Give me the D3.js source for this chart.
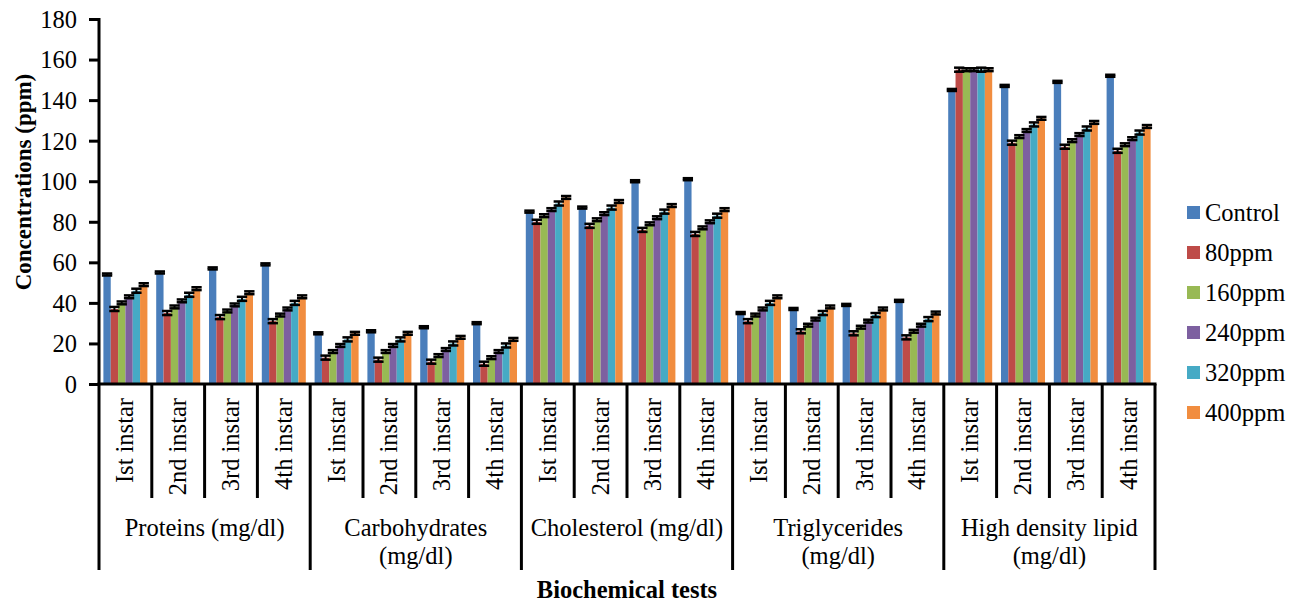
<!DOCTYPE html>
<html>
<head>
<meta charset="utf-8">
<script src="https://cdnjs.cloudflare.com/ajax/libs/d3/7.8.5/d3.min.js"></script>
<style>
  body { margin: 0; background: #fff; }
  svg text { font-family: 'Liberation Serif', 'Times New Roman', serif; fill: #000; }
</style>
</head>
<body>
<script>
// chart data
var categories = [
  ["Proteins (mg/dl)"],
  ["Carbohydrates", "(mg/dl)"],
  ["Cholesterol (mg/dl)"],
  ["Triglycerides", "(mg/dl)"],
  ["High density lipid", "(mg/dl)"]
];
var instars = ["Ist instar", "2nd instar", "3rd instar", "4th instar"];
var seriesNames = ["Control", "80ppm", "160ppm", "240ppm", "320ppm", "400ppm"];
var colors = ["#4A7EBB", "#BE4B48", "#98B954", "#7D60A0", "#46AAC5", "#F18D3F"];
var yTicks = [0, 20, 40, 60, 80, 100, 120, 140, 160, 180];

var control = [54, 55, 57, 59, 25, 26, 28, 30, 85, 87, 100, 101, 35, 37, 39, 41, 145, 147, 149, 152];
var ppm80   = [37, 35, 33, 31, 13, 12, 11, 10, 80, 78, 76, 74, 31, 26, 25, 23, 155, 119, 117, 115];
var ppm160  = [40, 38, 36, 34, 16, 16, 14, 13, 83, 81, 79, 77, 34, 29, 28, 26, 155, 122, 120, 118];
var ppm240  = [43, 41, 39, 37, 19, 19, 17, 16, 86, 84, 82, 80, 37, 32, 31, 29, 155, 125, 123, 121];
var ppm320  = [46, 44, 42, 40, 22, 22, 20, 19, 89, 87, 85, 83, 40, 35, 34, 32, 155, 128, 126, 124];
var ppm400  = [49, 47, 45, 43, 25, 25, 23, 22, 92, 90, 88, 86, 43, 38, 37, 35, 155, 131, 129, 127];
var errors  = [0.5, 1, 0.7, 0.7, 1, 0.7];

var values = [control, ppm80, ppm160, ppm240, ppm320, ppm400];

var width = 1303, height = 603;
var mLeft = 99, mRight = 1155, mTop = 19, mBottom = 384;
var fs = "24.5px";

var svg = d3.select("body").append("svg")
  .attr("width", width)
  .attr("height", height);

// one slot per category/instar pair
var slots = [];
categories.forEach(function(c, ci) {
  instars.forEach(function(ins, ii) {
    slots.push({cat: ci, instar: ins, idx: ci * instars.length + ii});
  });
});

var x0 = d3.scaleBand().domain(slots.map(d => d.idx)).range([mLeft, mRight]).padding(0);
var x1 = d3.scaleBand().domain(seriesNames).range([0, x0.bandwidth()]).paddingInner(0).paddingOuter(0.6);
var y = d3.scaleLinear().domain([0, 180]).range([mBottom, mTop]);

// bars
var bars = [];
values.forEach(function(arr, si) {
  arr.forEach(function(v, i) {
    bars.push({s: seriesNames[si], si: si, i: i, v: v, e: errors[si]});
  });
});

svg.append("g").selectAll("rect")
  .data(bars)
  .enter().append("rect")
    .attr("x", d => x0(d.i) + x1(d.s))
    .attr("y", d => y(d.v))
    .attr("width", x1.bandwidth())
    .attr("height", d => y(0) - y(d.v))
    .attr("fill", d => colors[d.si]);

// error bars
var eb = svg.append("g").attr("stroke", "#000").attr("stroke-width", 2);
var capW = x1.bandwidth() + 3;
var cx = d => x0(d.i) + x1(d.s) + x1.bandwidth() / 2;
eb.selectAll("line.w")
  .data(bars)
  .enter().append("line")
    .attr("x1", cx).attr("x2", cx)
    .attr("y1", d => y(d.v + d.e))
    .attr("y2", d => y(d.v - d.e));
eb.selectAll("line.top")
  .data(bars)
  .enter().append("line")
    .attr("x1", d => cx(d) - capW / 2)
    .attr("x2", d => cx(d) + capW / 2)
    .attr("y1", d => y(d.v + d.e))
    .attr("y2", d => y(d.v + d.e))
    .attr("stroke-width", 2.5);
eb.selectAll("line.bot")
  .data(bars)
  .enter().append("line")
    .attr("x1", d => cx(d) - capW / 2)
    .attr("x2", d => cx(d) + capW / 2)
    .attr("y1", d => y(d.v - d.e))
    .attr("y2", d => y(d.v - d.e))
    .attr("stroke-width", 2.5);

// y axis
var yAxis = svg.append("g")
  .attr("transform", "translate(" + mLeft + ",0)")
  .call(d3.axisLeft(y).tickValues(yTicks).tickSize(10).tickPadding(12));
yAxis.select(".domain").attr("stroke", "#000").attr("stroke-width", 3)
  .attr("d", "M0," + (mTop - 1) + "V" + mBottom);
yAxis.selectAll(".tick line").attr("stroke", "#000").attr("stroke-width", 3);
yAxis.selectAll(".tick text")
  .style("font-family", "'Liberation Serif', serif")
  .style("font-size", fs)
  .attr("dy", "0.34em");

// x axis line
svg.append("line")
  .attr("x1", mLeft - 1.5).attr("x2", mRight + 1.5)
  .attr("y1", mBottom).attr("y2", mBottom)
  .attr("stroke", "#000").attr("stroke-width", 3);

// separators between slots
var sep = svg.append("g").attr("stroke", "#000").attr("stroke-width", 3);
d3.range(slots.length + 1).forEach(function(k) {
  var xx = k < slots.length ? x0(k) : x0(slots.length - 1) + x0.bandwidth();
  var major = k % instars.length === 0;
  sep.append("line")
    .attr("x1", xx).attr("x2", xx)
    .attr("y1", mBottom).attr("y2", major ? 570 : 498);
});

// instar labels
svg.append("g").selectAll("text")
  .data(slots)
  .enter().append("text")
    .attr("transform", d => "translate(" + (x0(d.idx) + x0.bandwidth() / 2 + 8) + ",398) rotate(-90)")
    .attr("text-anchor", "end")
    .style("font-size", fs)
    .text(d => d.instar);

// category labels
var catG = svg.append("g").selectAll("text")
  .data(categories)
  .enter().append("text")
    .attr("x", (d, i) => (x0(i * 4) + x0(i * 4 + 3) + x0.bandwidth()) / 2)
    .attr("y", 536)
    .attr("text-anchor", "middle")
    .style("font-size", fs);
catG.selectAll("tspan")
  .data(d => d)
  .enter().append("tspan")
    .attr("x", function() { return d3.select(this.parentNode).attr("x"); })
    .attr("dy", (d, i) => i === 0 ? 0 : 28)
    .text(d => d);

// axis titles
svg.append("text")
  .attr("x", (mLeft + mRight) / 2)
  .attr("y", 598)
  .attr("text-anchor", "middle")
  .style("font-size", fs)
  .style("font-weight", "bold")
  .text("Biochemical tests");

svg.append("text")
  .attr("transform", "translate(31," + 182 + ") rotate(-90)")
  .attr("text-anchor", "middle")
  .style("font-size", "23px")
  .style("font-weight", "bold")
  .text("Concentrations (ppm)");

// legend
var legend = svg.append("g").selectAll("g")
  .data(seriesNames)
  .enter().append("g")
    .attr("transform", (d, i) => "translate(1187," + (213 + i * 40) + ")");
legend.append("rect")
  .attr("x", 0).attr("y", -7)
  .attr("width", 13).attr("height", 13)
  .attr("fill", (d, i) => colors[i]);
legend.append("text")
  .attr("x", 18).attr("y", 0)
  .attr("dy", "0.34em")
  .style("font-size", fs)
  .text(d => d);
</script>
</body>
</html>
